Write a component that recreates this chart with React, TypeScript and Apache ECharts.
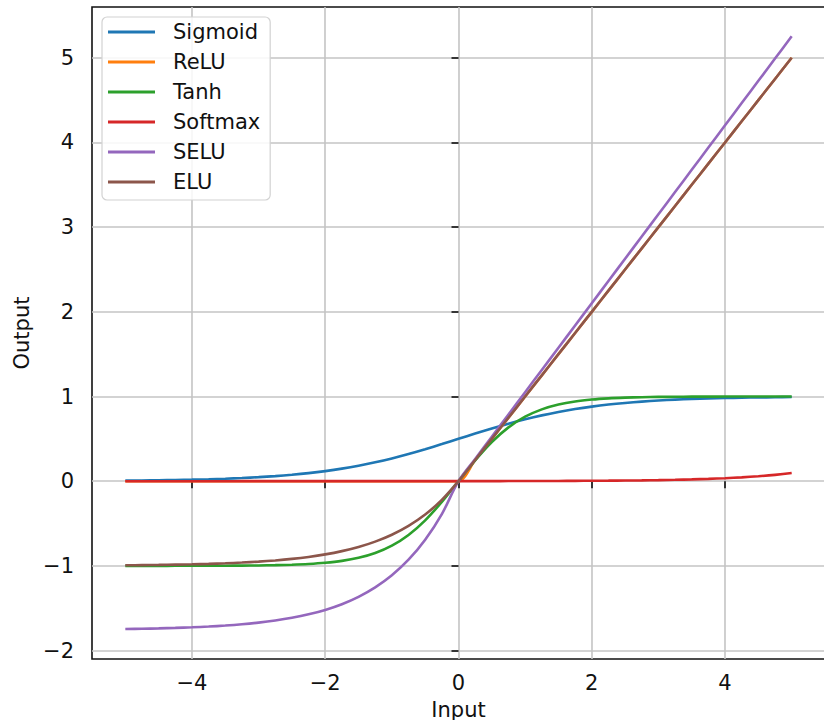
import React, { useEffect, useRef } from "react";
import * as echarts from "echarts";

const inputs = [
  -5, -4.75, -4.5, -4.25, -4, -3.75, -3.5, -3.25, -3, -2.75, -2.5, -2.25, -2, -1.75, -1.5, -1.25, -1, -0.75, -0.5, -0.25,
  0, 0.25, 0.5, 0.75, 1, 1.25, 1.5, 1.75, 2, 2.25, 2.5, 2.75, 3, 3.25, 3.5, 3.75, 4, 4.25, 4.5, 4.75, 5,
];

const sigmoidVals = [
  0.0067, 0.0086, 0.011, 0.0141, 0.018, 0.023, 0.0293, 0.0373, 0.0474, 0.0601, 0.0759, 0.0953, 0.1192, 0.148, 0.1824,
  0.2227, 0.2689, 0.3208, 0.3775, 0.4378, 0.5, 0.5622, 0.6225, 0.6792, 0.7311, 0.7773, 0.8176, 0.852, 0.8808, 0.9047,
  0.9241, 0.9399, 0.9526, 0.9627, 0.9707, 0.977, 0.982, 0.9859, 0.989, 0.9914, 0.9933,
];

const reluVals = [
  0, 0, 0, 0, 0, 0, 0, 0, 0, 0, 0, 0, 0, 0, 0, 0, 0, 0, 0, 0,
  0, 0.25, 0.5, 0.75, 1, 1.25, 1.5, 1.75, 2, 2.25, 2.5, 2.75, 3, 3.25, 3.5, 3.75, 4, 4.25, 4.5, 4.75, 5,
];

const tanhVals = [
  -0.9999, -0.9999, -0.9998, -0.9996, -0.9993, -0.9989, -0.9982, -0.997, -0.9951, -0.9919, -0.9866, -0.978, -0.964,
  -0.9414, -0.9051, -0.8483, -0.7616, -0.6351, -0.4621, -0.2449, 0, 0.2449, 0.4621, 0.6351, 0.7616, 0.8483, 0.9051,
  0.9414, 0.964, 0.978, 0.9866, 0.9919, 0.9951, 0.997, 0.9982, 0.9989, 0.9993, 0.9996, 0.9998, 0.9999, 0.9999,
];

const softmaxVals = [
  0.0, 0.0, 0.0, 0.0, 0.0, 0.0, 0.0, 0.0001, 0.0001, 0.0001, 0.0001, 0.0001, 0.0001, 0.0002, 0.0002, 0.0003, 0.0003,
  0.0004, 0.0005, 0.0006, 0.0006, 0.0008, 0.0011, 0.0014, 0.0018, 0.0023, 0.0029, 0.0037, 0.0048, 0.0061, 0.0079,
  0.0101, 0.013, 0.0167, 0.0215, 0.0276, 0.0354, 0.0455, 0.0584, 0.075, 0.0963,
];

const seluVals = [
  -1.7463, -1.7429, -1.7386, -1.733, -1.7259, -1.7168, -1.705, -1.6899, -1.6706, -1.6457, -1.6138, -1.5728, -1.5202,
  -1.4526, -1.3658, -1.2544, -1.1113, -0.9276, -0.6917, -0.3889, 0, 0.2627, 0.5254, 0.788, 1.0507, 1.3134, 1.5761,
  1.8387, 2.1014, 2.3641, 2.6268, 2.8894, 3.1521, 3.4148, 3.6775, 3.9401, 4.2028, 4.4655, 4.7282, 4.9908, 5.2535,
];

const eluVals = [
  -0.9933, -0.9913, -0.9889, -0.9857, -0.9817, -0.9765, -0.9698, -0.9612, -0.9502, -0.9361, -0.9179, -0.8946, -0.8647,
  -0.8262, -0.7769, -0.7135, -0.6321, -0.5276, -0.3935, -0.2212, 0, 0.25, 0.5, 0.75, 1, 1.25, 1.5, 1.75, 2, 2.25, 2.5,
  2.75, 3, 3.25, 3.5, 3.75, 4, 4.25, 4.5, 4.75, 5,
];

const seriesNames = ["Sigmoid", "ReLU", "Tanh", "Softmax", "SELU", "ELU"];
const seriesColors = ["#1f77b4", "#ff7f0e", "#2ca02c", "#d62728", "#9467bd", "#8c564b"];
const seriesValues = [sigmoidVals, reluVals, tanhVals, softmaxVals, seluVals, eluVals];

const xTicks = [-4, -2, 0, 2, 4];
const yTicks = [-2, -1, 0, 1, 2, 3, 4, 5];

const FONT = "DejaVu Sans";
const fmt = (v: number) => String(v).replace("-", "\u2212");

export default function App() {
  const ref = useRef<HTMLDivElement>(null);
  useEffect(() => {
    if (!ref.current) return;
    const chart = echarts.init(ref.current, undefined, { renderer: "svg" });
    const axisCommon = {
      type: "value" as const,
      axisLine: { show: false },
      axisTick: { show: true, length: 7, lineStyle: { color: "#000", width: 1.5 } },
      splitLine: { show: true, lineStyle: { color: "#c4c4c4", width: 1.6 } },
      nameTextStyle: { fontFamily: FONT, fontSize: 21, color: "#111" },
    };
    chart.setOption({
      animation: false,
      backgroundColor: "#fff",
      textStyle: { fontFamily: FONT },
      grid: {
        left: 92,
        top: 7,
        right: -1,
        bottom: 61,
        outerBoundsMode: "none",
        containLabel: false,
        show: true,
        borderColor: "#111",
        borderWidth: 1.6,
        backgroundColor: "transparent",
      },
      legend: {
        left: 102,
        top: 17,
        orient: "vertical",
        data: seriesNames,
        icon: "rect",
        itemWidth: 47,
        itemHeight: 3,
        itemGap: 6,
        padding: [3, 10, 6, 6],
        backgroundColor: "rgba(255,255,255,0.85)",
        borderColor: "#d2d2d2",
        borderWidth: 1.2,
        borderRadius: 5,
        textStyle: { fontFamily: FONT, fontSize: 21, lineHeight: 24, color: "#111", padding: [0, 0, 0, 13] },
      },
      xAxis: {
        ...axisCommon,
        min: -5.5,
        max: 5.5,
        name: "Input",
        nameLocation: "middle",
        nameGap: 40,
        axisTick: { ...axisCommon.axisTick, customValues: xTicks },
        axisLabel: {
          customValues: xTicks,
          formatter: fmt,
          fontFamily: FONT,
          fontSize: 21,
          color: "#111",
          margin: 13,
        },
      },
      yAxis: {
        ...axisCommon,
        min: -2.1,
        max: 5.6,
        name: "Output",
        nameLocation: "middle",
        nameGap: 58,
        axisTick: { ...axisCommon.axisTick, customValues: yTicks },
        axisLabel: {
          customValues: yTicks,
          formatter: fmt,
          fontFamily: FONT,
          fontSize: 21,
          color: "#111",
          margin: 18,
        },
      },
      series: seriesNames.map((name, i) => ({
        name,
        type: "line",
        symbol: "none",
        showSymbol: false,
        smooth: 0.3,
        color: seriesColors[i],
        lineStyle: { color: seriesColors[i], width: 2.6 },
        data: inputs.map((x, j) => [x, seriesValues[i][j]]),
      })),
    });
    return () => chart.dispose();
  }, []);
  return <div ref={ref} style={{ position: "fixed", left: 0, top: 0, width: 824, height: 720 }} />;
}
